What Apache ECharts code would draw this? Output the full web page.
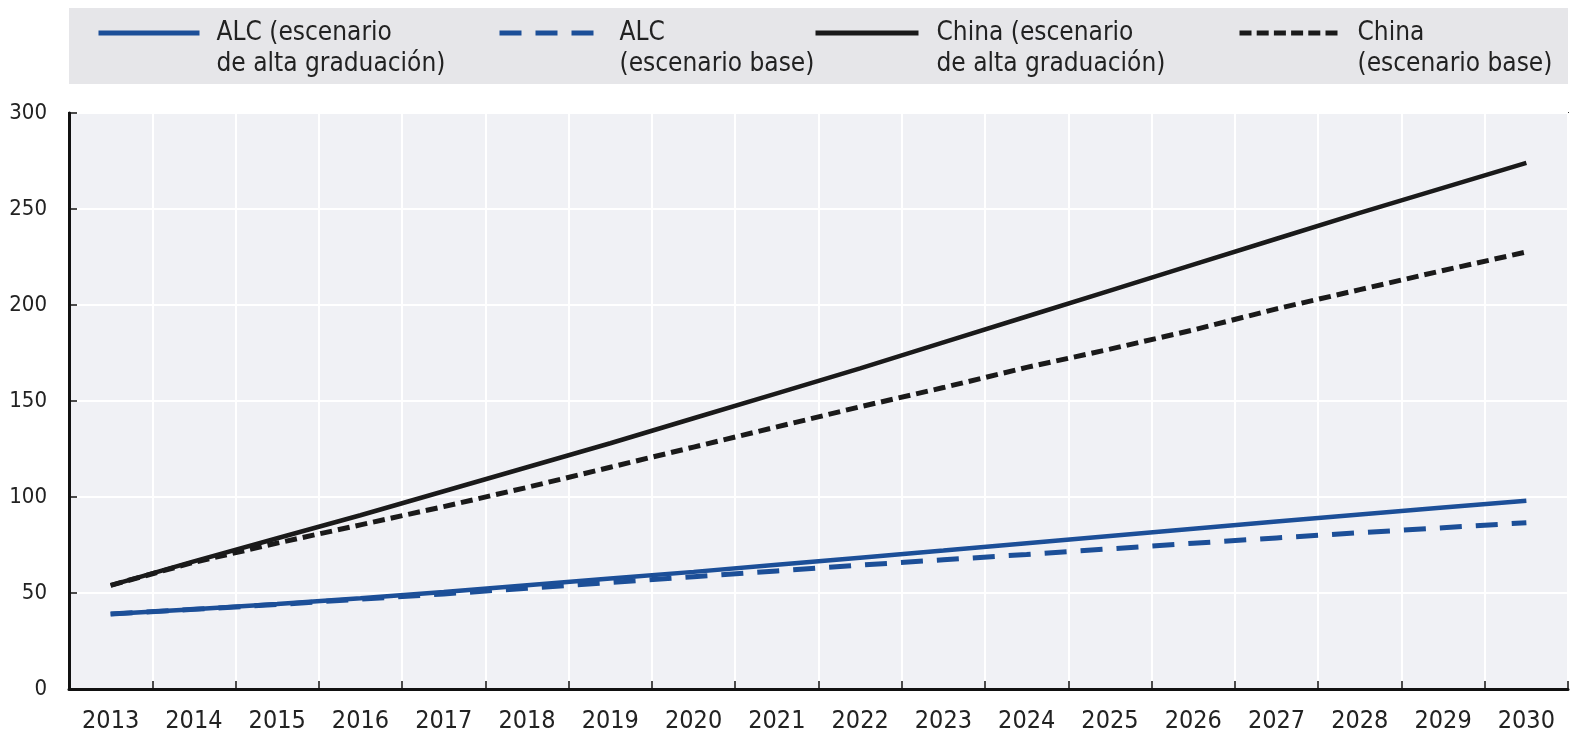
<!DOCTYPE html>
<html>
<head>
<meta charset="utf-8">
<script src="https://cdn.jsdelivr.net/npm/echarts@6/dist/echarts.min.js"></script>
<style>
html,body{margin:0;padding:0;background:#fff;}
#chart{width:1570px;height:740px;}
</style>
</head>
<body>
<div id="chart"></div>
<script>
const years = ['2013','2014','2015','2016','2017','2018','2019','2020','2021','2022','2023','2024','2025','2026','2027','2028','2029','2030'];
const alcHigh   = [39, 41.5, 44.3, 47.3, 50.5, 54, 57.5, 61, 64.7, 68.4, 72.1, 75.9, 79.7, 83.5, 87.2, 90.9, 94.5, 98];
const alcBase   = [39, 41.5, 44, 46.8, 49.5, 52.5, 55.5, 58.5, 61.5, 64.5, 67.3, 70.1, 73, 75.9, 78.7, 81.4, 84, 86.6];
const chinaHigh = [54, 66.5, 78.5, 90.5, 103, 115.5, 128, 141, 154, 167, 180.5, 194, 207.5, 221, 234.5, 248, 261, 274];
const chinaBase = [54, 66, 76, 85.5, 95, 105, 115.5, 126, 136.5, 147, 157, 167.5, 177, 187, 198, 208, 218, 227.6];
const yTicks = [0, 50, 100, 150, 200, 250, 300];
const seriesNames = ['ALC (escenario\nde alta graduación)', 'ALC\n(escenario base)', 'China (escenario\nde alta graduación)', 'China\n(escenario base)'];

const FONT = "'Liberation Sans Narrow', 'Arial Narrow', 'DejaVu Sans Condensed', 'DejaVu Sans', sans-serif";
const BLUE = '#1c4f98';
const BLACK = '#1a1a1a';

function legendCfg(name, left, itemWidth, gap, color, type) {
  return {
    data: [name], left: left, top: -13.5, padding: 0,
    itemWidth: itemWidth, itemHeight: 2,
    selectedMode: false,
    itemStyle: { opacity: 0 },
    lineStyle: { color: color, width: 5, type: type },
    formatter: n => '\n' + n,
    textStyle: { fontFamily: FONT, fontSize: 26, lineHeight: 31, color: '#222', padding: [0, 0, 0, gap] }
  };
}

const chart = echarts.init(document.getElementById('chart'));
chart.setOption({
  animation: false,
  graphic: [{ type: 'rect', shape: { x: 69, y: 8, width: 1499, height: 76 }, style: { fill: '#e6e6e9' }, z: -10 }],
  legend: [
    legendCfg(seriesNames[0], 96, 101, 12, BLUE, 'solid'),
    legendCfg(seriesNames[1], 497, 105, 10, BLUE, [22, 14]),
    legendCfg(seriesNames[2], 813, 103, 13, BLACK, 'solid'),
    legendCfg(seriesNames[3], 1237, 98, 15, BLACK, [12, 5.2])
  ],
  grid: { left: 69, right: 2, top: 113, bottom: 51, show: true, backgroundColor: '#f0f1f5', borderColor: '#333', borderWidth: 2 },
  xAxis: {
    type: 'category', data: years, boundaryGap: true,
    axisLine: { lineStyle: { color: '#111', width: 3 } },
    axisTick: { show: true, inside: true, length: 8, lineStyle: { color: '#111', width: 1.5 } },
    axisLabel: { fontFamily: FONT, fontSize: 25, color: '#222', margin: 20, interval: 0 },
    splitLine: { show: true, interval: 0, lineStyle: { color: '#ffffff', width: 2 } }
  },
  yAxis: {
    type: 'value', min: 0, max: 300, interval: 50,
    axisLine: { show: true, lineStyle: { color: '#111', width: 3 } },
    axisTick: { show: true, inside: true, length: 8, lineStyle: { color: '#111', width: 1.5 } },
    axisLabel: { fontFamily: FONT, fontSize: 22, color: '#222', margin: 22,
      formatter: v => yTicks.includes(v) ? String(v) : '' },
    splitLine: { show: true, lineStyle: { color: '#ffffff', width: 2 } }
  },
  series: [
    { name: seriesNames[0], type: 'line', data: alcHigh, symbol: 'none', z: 4,
      lineStyle: { color: BLUE, width: 4.5, type: 'solid' }, itemStyle: { color: BLUE } },
    { name: seriesNames[1], type: 'line', data: alcBase, symbol: 'none', z: 3,
      lineStyle: { color: BLUE, width: 5, type: [22, 14] }, itemStyle: { color: BLUE } },
    { name: seriesNames[2], type: 'line', data: chinaHigh, symbol: 'none', z: 4,
      lineStyle: { color: BLACK, width: 4.5, type: 'solid' }, itemStyle: { color: BLACK } },
    { name: seriesNames[3], type: 'line', data: chinaBase, symbol: 'none', z: 3,
      lineStyle: { color: BLACK, width: 5, type: [12, 6] }, itemStyle: { color: BLACK } }
  ]
});
</script>
</body>
</html>
